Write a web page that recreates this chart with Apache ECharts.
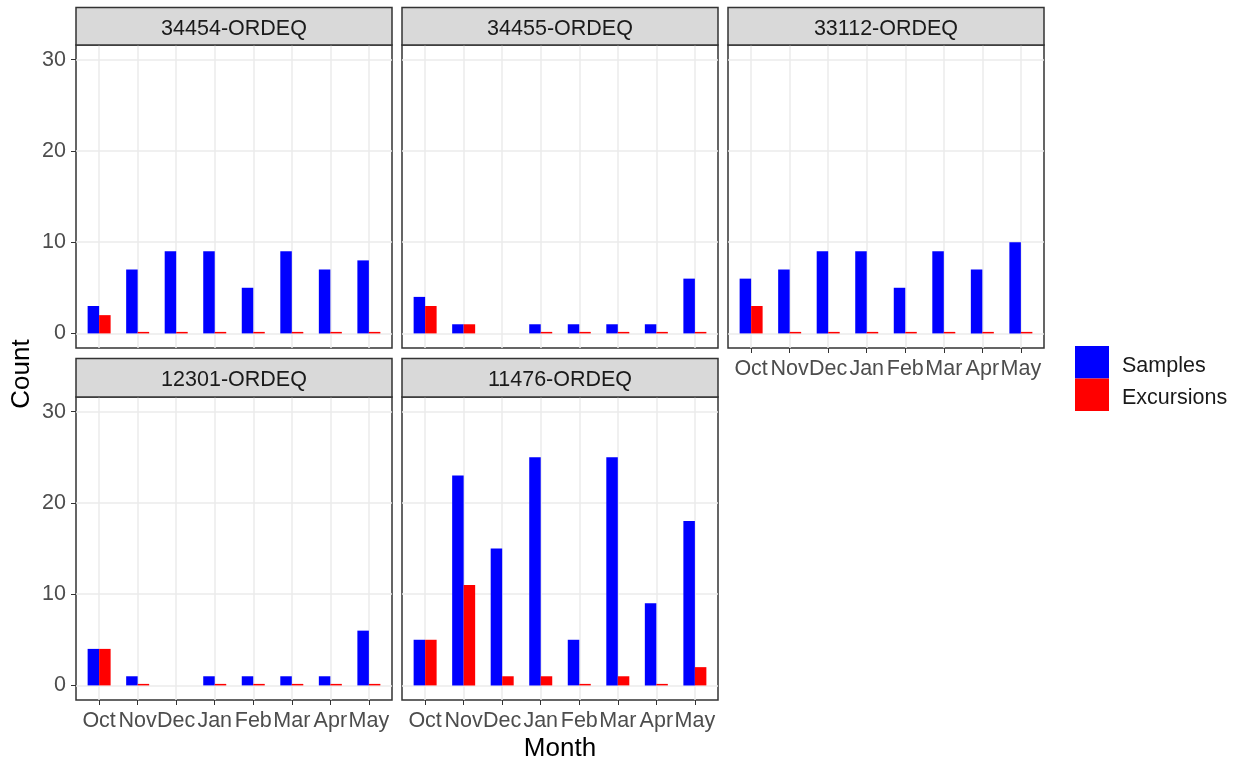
<!DOCTYPE html>
<html>
<head>
<meta charset="utf-8">
<script src="https://cdn.jsdelivr.net/npm/echarts@6/dist/echarts.min.js"></script>
<style>
html,body{margin:0;padding:0;background:#fff;}
#chart{width:1238px;height:761px;}
</style>
</head>
<body>
<div id="chart"></div>
<script>
// ---- data ----
const months = ['Oct','Nov','Dec','Jan','Feb','Mar','Apr','May'];
const sites = ['34454-ORDEQ','34455-ORDEQ','33112-ORDEQ','12301-ORDEQ','11476-ORDEQ'];
const samples_34454    = [3, 7, 9, 9, 5, 9, 7, 8];
const excursions_34454 = [2, 0, 0, 0, 0, 0, 0, 0];
const samples_34455    = [4, 1, null, 1, 1, 1, 1, 6];
const excursions_34455 = [3, 1, null, 0, 0, 0, 0, 0];
const samples_33112    = [6, 7, 9, 9, 5, 9, 7, 10];
const excursions_33112 = [3, 0, 0, 0, 0, 0, 0, 0];
const samples_12301    = [4, 1, null, 1, 1, 1, 1, 6];
const excursions_12301 = [4, 0, null, 0, 0, 0, 0, 0];
const samples_11476    = [5, 23, 15, 25, 5, 25, 9, 18];
const excursions_11476 = [5, 11, 1, 1, 0, 1, 0, 2];
const yTicks = [0, 10, 20, 30];
const yGrid = [0, 5, 10, 15, 20, 25, 30];
const seriesNames = ['Samples', 'Excursions'];

const samplesBySite = [samples_34454, samples_34455, samples_33112, samples_12301, samples_11476];
const excursionsBySite = [excursions_34454, excursions_34455, excursions_33112, excursions_12301, excursions_11476];

// ---- layout ----
const FONT = "'Liberation Sans', Arial, sans-serif";
const LABEL_SIZE = 21.5;
const colX = [76, 402, 728];
const panelW = 316;
const rows = [{stripTop: 7.5, top: 45, bottom: 348}, {stripTop: 358.5, top: 397, bottom: 700}];
const panelPos = [[0,0],[0,1],[0,2],[1,0],[1,1]];
const showXLabels = [false, false, true, true, true];
const showYLabels = [true, false, false, true, false];
const monthPos = months.map((m, i) => i + 1);

function toPairs(arr) {
  // missing months are left out (no bar drawn)
  const out = [];
  arr.forEach((v, i) => { if (v !== null) out.push({value: [monthPos[i], v]}); });
  return out;
}

const grids = [], xAxes = [], yAxes = [], series = [], graphics = [];
panelPos.forEach(([r, c], k) => {
  const row = rows[r];
  grids.push({
    left: colX[c], top: row.top, width: panelW, height: row.bottom - row.top,
    show: true, borderColor: '#333333', borderWidth: 1.5, backgroundColor: '#ffffff'
  });
  xAxes.push({
    type: 'value', gridIndex: k, min: 0.4, max: 8.6, position: 'bottom',
    axisLine: {show: false, onZero: false},
    axisTick: {show: showXLabels[k], customValues: monthPos, length: 5, lineStyle: {color: '#333333'}},
    axisLabel: {show: showXLabels[k], customValues: monthPos, margin: 10,
      formatter: v => months[Math.round(v) - 1] || '',
      color: '#4D4D4D', fontSize: LABEL_SIZE, fontFamily: FONT},
    splitLine: {show: true, customValues: monthPos, lineStyle: {color: '#EBEBEB', width: 1.5}}
  });
  yAxes.push({
    type: 'value', gridIndex: k, min: -1.6, max: 31.6, position: 'left',
    axisLine: {show: false, onZero: false},
    axisTick: {show: showYLabels[k], customValues: yTicks, length: 5, lineStyle: {color: '#333333'}},
    axisLabel: {show: showYLabels[k], customValues: yTicks, margin: 10,
      color: '#4D4D4D', fontSize: LABEL_SIZE, fontFamily: FONT},
    splitLine: {show: true, customValues: yGrid, lineStyle: {color: '#EBEBEB', width: 1.5}}
  });
  series.push({
    name: seriesNames[0], type: 'bar', xAxisIndex: k, yAxisIndex: k, data: toPairs(samplesBySite[k]),
    barWidth: 11.5, barGap: '0%', barMinHeight: 1.5, itemStyle: {color: '#0000FF'}, silent: true
  });
  series.push({
    name: seriesNames[1], type: 'bar', xAxisIndex: k, yAxisIndex: k, data: toPairs(excursionsBySite[k]),
    barWidth: 11.5, barGap: '0%', barMinHeight: 1.5, itemStyle: {color: '#FF0000'}, silent: true
  });
  // facet strip
  graphics.push({
    type: 'rect', z: 10,
    shape: {x: colX[c], y: row.stripTop, width: panelW, height: row.top - row.stripTop},
    style: {fill: '#D9D9D9', stroke: '#333333', lineWidth: 1.5}
  });
  graphics.push({
    type: 'text', z: 11,
    x: colX[c] + panelW / 2, y: (row.stripTop + row.top) / 2 + 2.5,
    style: {text: sites[k], fill: '#1A1A1A', font: LABEL_SIZE + 'px ' + FONT, textAlign: 'center', textVerticalAlign: 'middle'}
  });
});
graphics.push({
  type: 'text', x: 22, y: 374, rotation: Math.PI / 2,
  style: {text: 'Count', fill: '#000000', font: '26px ' + FONT, textAlign: 'center', textVerticalAlign: 'middle'}
});
graphics.push({
  type: 'text', x: 560, y: 749,
  style: {text: 'Month', fill: '#000000', font: '26px ' + FONT, textAlign: 'center', textVerticalAlign: 'middle'}
});

const chart = echarts.init(document.getElementById('chart'), null, {renderer: 'canvas'});
chart.setOption({
  animation: false,
  backgroundColor: '#ffffff',
  grid: grids, xAxis: xAxes, yAxis: yAxes, series: series, graphic: graphics,
  legend: {
    data: seriesNames, orient: 'vertical', left: 1075, top: 346, padding: 0,
    itemWidth: 34, itemHeight: 32.5, itemGap: 0, icon: 'rect', selectedMode: false,
    formatter: name => '{t|' + name + '}',
    textStyle: {fontSize: LABEL_SIZE, color: '#1A1A1A', fontFamily: FONT,
      rich: {t: {fontSize: LABEL_SIZE, color: '#1A1A1A', fontFamily: FONT, padding: [7, 0, 0, 8]}}}
  }
});
</script>
</body>
</html>
